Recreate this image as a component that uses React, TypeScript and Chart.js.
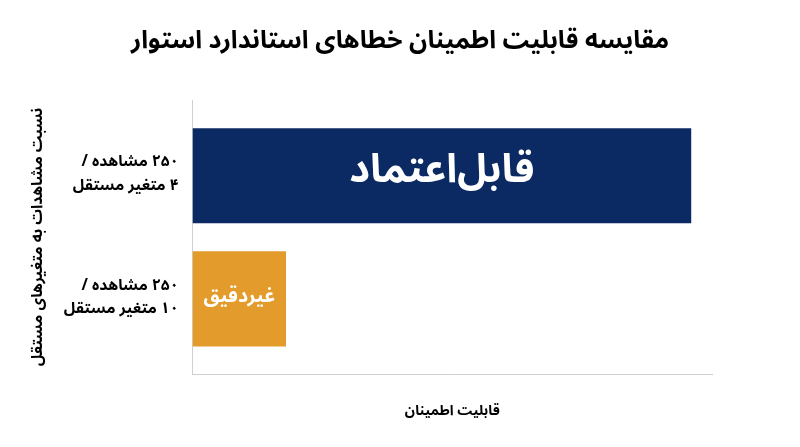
import React, { useEffect, useRef } from 'react';
import { Chart, registerables } from 'chart.js';

Chart.register(...registerables);

const chartTitle = 'مقایسه قابلیت اطمینان خطاهای استاندارد استوار';
const xAxisTitle = 'قابلیت اطمینان';
const yAxisTitle = 'نسبت مشاهدات به متغیرهای مستقل';

// each category label is two lines
const categories = [
  ['۲۵۰ مشاهده /', '۴ متغیر مستقل'],
  ['۲۵۰ مشاهده /', '۱۰ متغیر مستقل'],
];
const reliability = [96, 18];
const barLabels = ['قابل‌اعتماد', 'غیردقیق'];

const barColors = ['#0b2a63', '#e39b2b'];
const barLabelSizes = [40, 19.5];
const FONT = "'Noto Sans Arabic', Vazirmatn, 'DejaVu Sans', sans-serif";

const barLabelPlugin = {
  id: 'barLabels',
  afterDatasetsDraw(chart: Chart) {
    const { ctx } = chart;
    const meta = chart.getDatasetMeta(0);
    ctx.save();
    ctx.fillStyle = '#ffffff';
    ctx.textAlign = 'center';
    ctx.textBaseline = 'middle';
    meta.data.forEach((bar: any, i: number) => {
      const { x, y, base } = bar.getProps(['x', 'y', 'base'], true);
      ctx.font = `bold ${barLabelSizes[i]}px ${FONT}`;
      ctx.fillText(barLabels[i], (x + base) / 2, y);
    });
    ctx.restore();
  },
};

export default function App() {
  const canvasRef = useRef<HTMLCanvasElement>(null);

  useEffect(() => {
    if (!canvasRef.current) return;
    const chart = new Chart(canvasRef.current, {
      type: 'bar',
      data: {
        datasets: [
          {
            data: reliability.map((v, i) => ({ x: v, y: i })),
            backgroundColor: barColors,
            borderWidth: 0,
            categoryPercentage: 1,
            barPercentage: 0.772,
          },
        ],
      },
      options: {
        indexAxis: 'y',
        animation: false,
        responsive: true,
        maintainAspectRatio: false,
        layout: { padding: { top: 20, left: 22, right: 22, bottom: 20 } },
        plugins: {
          legend: { display: false },
          tooltip: { enabled: false },
          title: {
            display: true,
            text: chartTitle,
            color: '#000',
            font: { family: FONT, size: 25, weight: 'bold' },
            padding: { top: 9, bottom: 41 },
          },
        },
        scales: {
          x: {
            min: 0,
            max: 100,
            grid: { display: false, drawTicks: false },
            border: { display: true, color: '#d0d0d0', width: 1 },
            ticks: { display: false },
            title: {
              display: true,
              text: xAxisTitle,
              color: '#000',
              font: { family: FONT, size: 14, weight: 'bold' },
              padding: { top: 30.6, bottom: 5.6 },
            },
          },
          y: {
            type: 'linear',
            reverse: true,
            offset: false,
            min: -0.615,
            max: 1.61,
            afterBuildTicks: (axis: any) => {
              axis.ticks = categories.map((_, i) => ({ value: i }));
            },
            afterFit: (axis: any) => {
              axis.width = 170.5;
            },
            grid: { display: false, drawTicks: false },
            border: { display: true, color: '#d0d0d0', width: 1 },
            ticks: {
              padding: 14,
              color: '#000',
              font: { family: FONT, size: 15.5, weight: 'bold', lineHeight: 1.5 },
              callback: (value: any) => categories[value as number] ?? '',
            },
            title: {
              display: true,
              text: yAxisTitle,
              color: '#000',
              font: { family: FONT, size: 15.5, weight: 'bold' },
              padding: { top: 8, bottom: 4 },
            },
          },
          // empty spacer on the right so the title stays centred on the page
          spacer: {
            type: 'linear',
            axis: 'y',
            position: 'right',
            display: true,
            grid: { display: false, drawTicks: false },
            border: { display: false },
            ticks: { display: false },
            afterFit: (axis: any) => {
              axis.width = 66;
            },
          },
        },
      },
      plugins: [barLabelPlugin],
    });
    return () => chart.destroy();
  }, []);

  return (
    <div style={{ position: 'fixed', inset: 0, background: '#fff' }}>
      <canvas ref={canvasRef} style={{ direction: 'rtl' }} />
    </div>
  );
}
